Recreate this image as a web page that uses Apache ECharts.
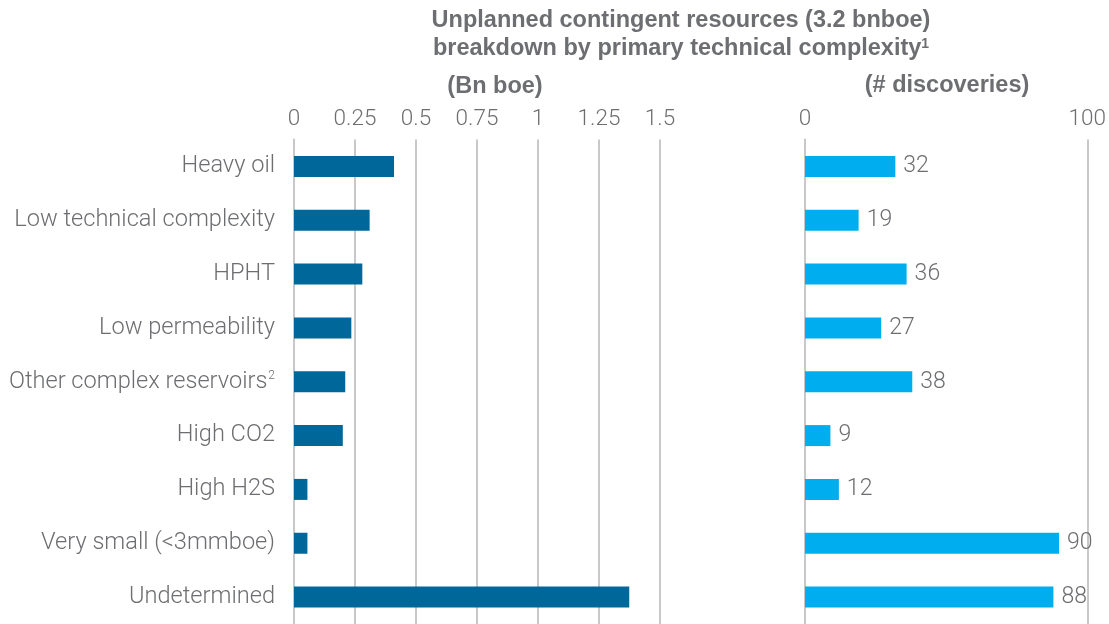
<!DOCTYPE html>
<html>
<head>
<meta charset="utf-8">
<script src="https://cdn.jsdelivr.net/npm/echarts@6/dist/echarts.min.js"></script>
<style>html,body{margin:0;padding:0;background:#fff}#c{width:1109px;height:624px}</style>
</head>
<body>
<div id="c"></div>
<script>
var categories = ['Heavy oil', 'Low technical complexity', 'HPHT', 'Low permeability', 'Other complex reservoirs', 'High CO2', 'High H2S', 'Very small (<3mmboe)', 'Undetermined'];
var footnotes = {'Other complex reservoirs': '2'};
var resourcesBnBoe = [0.41, 0.31, 0.28, 0.235, 0.21, 0.2, 0.055, 0.055, 1.374];
var discoveries = [32, 19, 36, 27, 38, 9, 12, 90, 88];
var titleLine1 = 'Unplanned contingent resources (3.2 bnboe)';
var titleLine2 = 'breakdown by primary technical complexity';
var titleNote = '1';
var leftUnit = '(Bn boe)';
var rightUnit = '(# discoveries)';

var FONT = 'Roboto, "Liberation Sans", Arial, sans-serif';
var BFONT = '"Liberation Sans", Arial, sans-serif';
var GREY = '#6d6e71';
var LINE = '#c8c8c8';

var chart = echarts.init(document.getElementById('c'));
chart.setOption({
  animation: false,
  backgroundColor: '#fff',
  textStyle: {fontFamily: FONT},
  graphic: [
    {type: 'text', x: 681, y: 9, style: {text: titleLine1, fill: GREY, font: 'bold 23.5px ' + BFONT, align: 'center'}},
    {type: 'text', x: 681, y: 37, style: {text: titleLine2 + '{sup|' + titleNote + '}', fill: GREY, font: 'bold 23.5px ' + BFONT, align: 'center',
      rich: {sup: {fontSize: 14, fontWeight: 'bold', fontFamily: BFONT, fill: GREY, verticalAlign: 'top', padding: [0, 0, 9, 0]}}}},
    {type: 'text', x: 495, y: 75, style: {text: leftUnit, fill: GREY, font: 'bold 23.5px ' + BFONT, align: 'center'}},
    {type: 'text', x: 947, y: 74, style: {text: rightUnit, fill: GREY, font: 'bold 23.5px ' + BFONT, align: 'center'}}
  ],
  grid: [
    {left: 294, top: 139.5, width: 366, height: 490, containLabel: false},
    {left: 805, top: 139.5, width: 285.5, height: 490, containLabel: false}
  ],
  xAxis: [
    {type: 'value', gridIndex: 0, position: 'top', min: 0, max: 1.5, interval: 0.25,
     axisLine: {show: false}, axisTick: {show: false},
     axisLabel: {color: GREY, fontSize: 22.5, fontWeight: 300, margin: 9, fontFamily: FONT},
     splitLine: {lineStyle: {color: LINE, width: 2}}},
    {type: 'value', gridIndex: 1, position: 'top', min: 0, max: 100, interval: 100,
     axisLine: {show: false}, axisTick: {show: false},
     axisLabel: {color: GREY, fontSize: 22.5, fontWeight: 300, margin: 9, fontFamily: FONT},
     splitLine: {lineStyle: {color: LINE, width: 2}}}
  ],
  yAxis: [
    {type: 'category', gridIndex: 0, inverse: true, data: categories,
     axisLine: {lineStyle: {color: LINE, width: 2}},
     axisTick: {length: 15, lineStyle: {color: LINE, width: 2}},
     axisLabel: {color: GREY, fontSize: 23.6, fontWeight: 300, margin: 19, fontFamily: FONT,
       formatter: function (v) { return footnotes[v] ? v + '{sup|' + footnotes[v] + '}' : v; },
       rich: {sup: {fontSize: 12, fontWeight: 300, color: GREY, verticalAlign: 'top', padding: [0, 0, 11, 1]}}}},
    {type: 'category', gridIndex: 1, inverse: true, data: categories,
     axisLine: {lineStyle: {color: LINE, width: 2}},
     axisTick: {show: false}, axisLabel: {show: false}}
  ],
  series: [
    {type: 'bar', xAxisIndex: 0, yAxisIndex: 0, data: resourcesBnBoe, barWidth: 21,
     itemStyle: {color: '#00679b'}},
    {type: 'bar', xAxisIndex: 1, yAxisIndex: 1, data: discoveries, barWidth: 21,
     itemStyle: {color: '#00aeef'},
     label: {show: true, position: 'right', distance: 8, color: GREY, fontSize: 23, fontWeight: 300, fontFamily: FONT}}
  ]
});
</script>
</body>
</html>
